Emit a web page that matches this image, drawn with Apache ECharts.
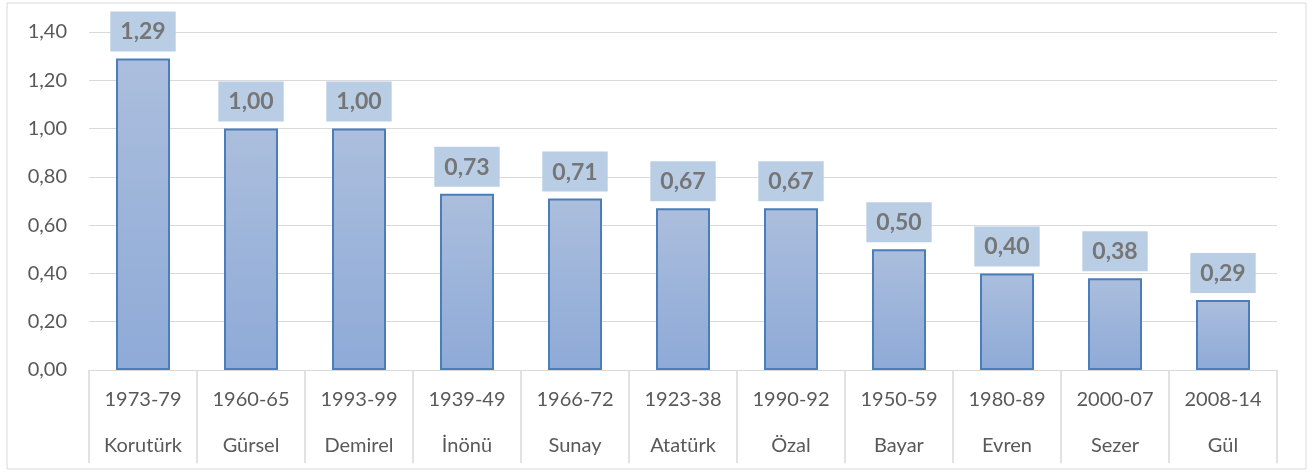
<!DOCTYPE html>
<html><head><meta charset="utf-8">
<script src="https://cdn.jsdelivr.net/npm/echarts@6/dist/echarts.min.js"></script>
<style>html,body{margin:0;padding:0;background:#fff}#c{width:1314px;height:473px}</style>
</head><body><div id="c"></div>
<script>
const years = ['1973-79','1960-65','1993-99','1939-49','1966-72','1923-38','1990-92','1950-59','1980-89','2000-07','2008-14'];
const names = ['Korutürk','Gürsel','Demirel','İnönü','Sunay','Atatürk','Özal','Bayar','Evren','Sezer','Gül'];
const values = [1.29,1.00,1.00,0.73,0.71,0.67,0.67,0.50,0.40,0.38,0.29];
const fmt = v => Number(v).toFixed(2).replace('.', ',');
const FONT = 'Lato, "Open Sans", sans-serif';
const chart = echarts.init(document.getElementById('c'), null, {renderer:'canvas'});
chart.setOption({
  animation:false,
  textStyle:{fontFamily:FONT},
  graphic:[{type:'rect',shape:{x:7,y:3,width:1299,height:466},style:{fill:'none',stroke:'#d9d9d9',lineWidth:1}}],
  grid:{left:89,right:37,top:32,bottom:103},
  xAxis:{type:'category',data:years.map((y,i)=>y+'\n'+names[i]),
    axisLine:{lineStyle:{color:'#d9d9d9',width:1}},
    axisTick:{show:true,interval:0,length:93,lineStyle:{color:'#d9d9d9',width:1.5}},
    axisLabel:{interval:0,color:'#595959',fontSize:20,fontFamily:FONT,lineHeight:46,margin:7}
  },
  yAxis:{type:'value',min:0,max:1.4,interval:0.2,
    axisLine:{show:false},axisTick:{show:false},
    splitLine:{lineStyle:{color:'#d9d9d9',width:1}},
    axisLabel:{formatter:fmt,color:'#595959',fontSize:20,fontFamily:FONT,margin:22}
  },
  series:[{type:'bar',data:values,barWidth:'50%',
    itemStyle:{color:new echarts.graphic.LinearGradient(0,0,0,1,[{offset:0,color:'#abbedd'},{offset:1,color:'#8eaad7'}]),
      borderColor:'#4a7ebb',borderWidth:2},
    label:{show:true,position:'top',distance:7,formatter:p=>fmt(p.value),
      backgroundColor:'#b9cde5',padding:[9,10,8,10],fontWeight:'bold',fontSize:23,color:'#767676',fontFamily:FONT}
  }]
});
</script></body></html>
